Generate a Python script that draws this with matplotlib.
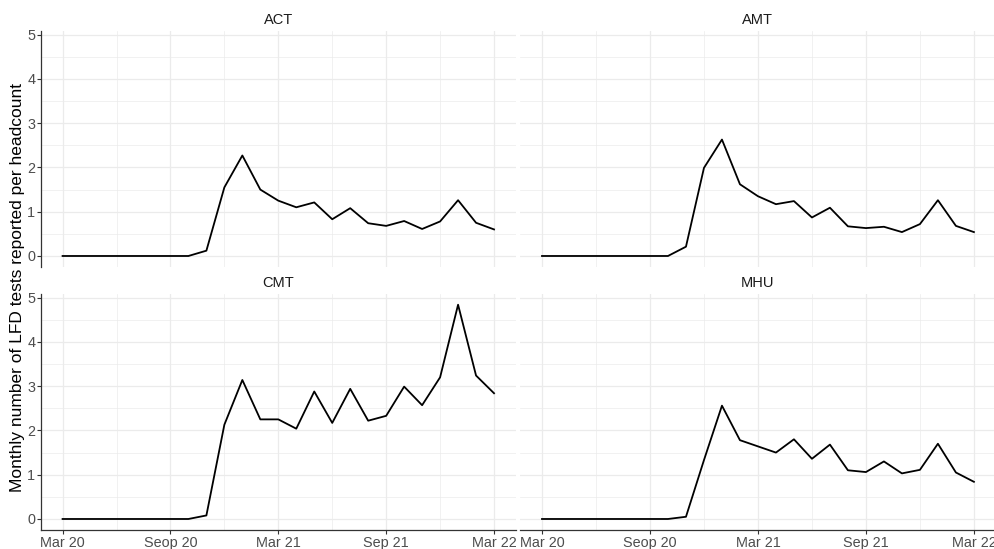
import numpy as np
import matplotlib.pyplot as plt

plt.rcParams['font.family'] = ['Liberation Sans', 'DejaVu Sans']

# monthly values, Mar 20 .. Mar 22
months = list(range(25))
act = [0, 0, 0, 0, 0, 0, 0, 0, 0.12, 1.55, 2.27, 1.50, 1.25, 1.10, 1.21, 0.83, 1.08,
       0.74, 0.68, 0.79, 0.61, 0.78, 1.26, 0.75, 0.60]
amt = [0, 0, 0, 0, 0, 0, 0, 0, 0.21, 1.99, 2.63, 1.62, 1.35, 1.17, 1.24, 0.87, 1.09,
       0.67, 0.63, 0.66, 0.54, 0.72, 1.26, 0.68, 0.54]
cmt = [0, 0, 0, 0, 0, 0, 0, 0, 0.08, 2.13, 3.14, 2.25, 2.25, 2.04, 2.88, 2.17, 2.94,
       2.22, 2.33, 2.99, 2.57, 3.20, 4.84, 3.24, 2.84]
mhu = [0, 0, 0, 0, 0, 0, 0, 0, 0.05, 1.33, 2.56, 1.78, 1.64, 1.50, 1.80, 1.36, 1.68,
       1.10, 1.06, 1.30, 1.03, 1.11, 1.70, 1.05, 0.84]
panels = ['ACT', 'AMT', 'CMT', 'MHU']
series = [act, amt, cmt, mhu]
x_ticks = [0, 6, 12, 18, 24]
x_labels = ['Mar 20', 'Seop 20', 'Mar 21', 'Sep 21', 'Mar 22']

W, H = 995, 549
fig = plt.figure(figsize=(W / 100, H / 100), dpi=100)

# panel boxes in pixels: left, right, top, bottom
cols = [(41, 515.6), (520.4, 995.5)]
rows = [(31, 266.7), (294, 529.7)]

ymax = max(max(s) for s in series)
ylim = (-0.05 * ymax, ymax * 1.05)
xlim = (-0.05 * 24, 24 * 1.05)

grid_c = '#EBEBEB'
for i, (name, vals) in enumerate(zip(panels, series)):
    r, c = divmod(i, 2)
    l, rr = cols[c]
    t, b = rows[r]
    ax = fig.add_axes([l / W, 1 - b / H, (rr - l) / W, (b - t) / H])
    ax.plot(months, vals, color='black', lw=1.3, zorder=3)
    ax.set_xlim(xlim)
    ax.set_ylim(ylim)
    ax.set_xticks(x_ticks)
    ax.set_xticks([3, 9, 15, 21], minor=True)
    ax.set_yticks(range(6))
    ax.set_yticks(np.arange(0.5, 5, 1), minor=True)
    ax.grid(which='major', color=grid_c, lw=0.9, zorder=0)
    ax.grid(which='minor', color=grid_c, lw=0.5, zorder=0)
    for s in ax.spines.values():
        s.set_visible(False)
    ax.tick_params(which='minor', length=0)
    ax.tick_params(which='major', colors='#333333', labelcolor='#4D4D4D',
                   labelsize=10.4, length=2.7, width=0.8, pad=1.5)
    if c == 0:
        ax.spines['left'].set_visible(True)
        ax.spines['left'].set_color('#333333')
        ax.spines['left'].set_linewidth(0.9)
    else:
        ax.tick_params(axis='y', left=False, labelleft=False)
    if r == 1:
        ax.spines['bottom'].set_visible(True)
        ax.spines['bottom'].set_color('#333333')
        ax.spines['bottom'].set_linewidth(0.9)
        ax.set_xticklabels(x_labels)
    else:
        ax.tick_params(axis='x', bottom=False, labelbottom=False)
    ax.set_title(name, fontsize=10.5, color='#1A1A1A', pad=5)

fig.text(17.5 / W, 1 - 288 / H, 'Monthly number of LFD tests reported per headcount',
         rotation=90, ha='center', va='center', fontsize=12.5, color='black')

fig.savefig('out.png', dpi=100)
